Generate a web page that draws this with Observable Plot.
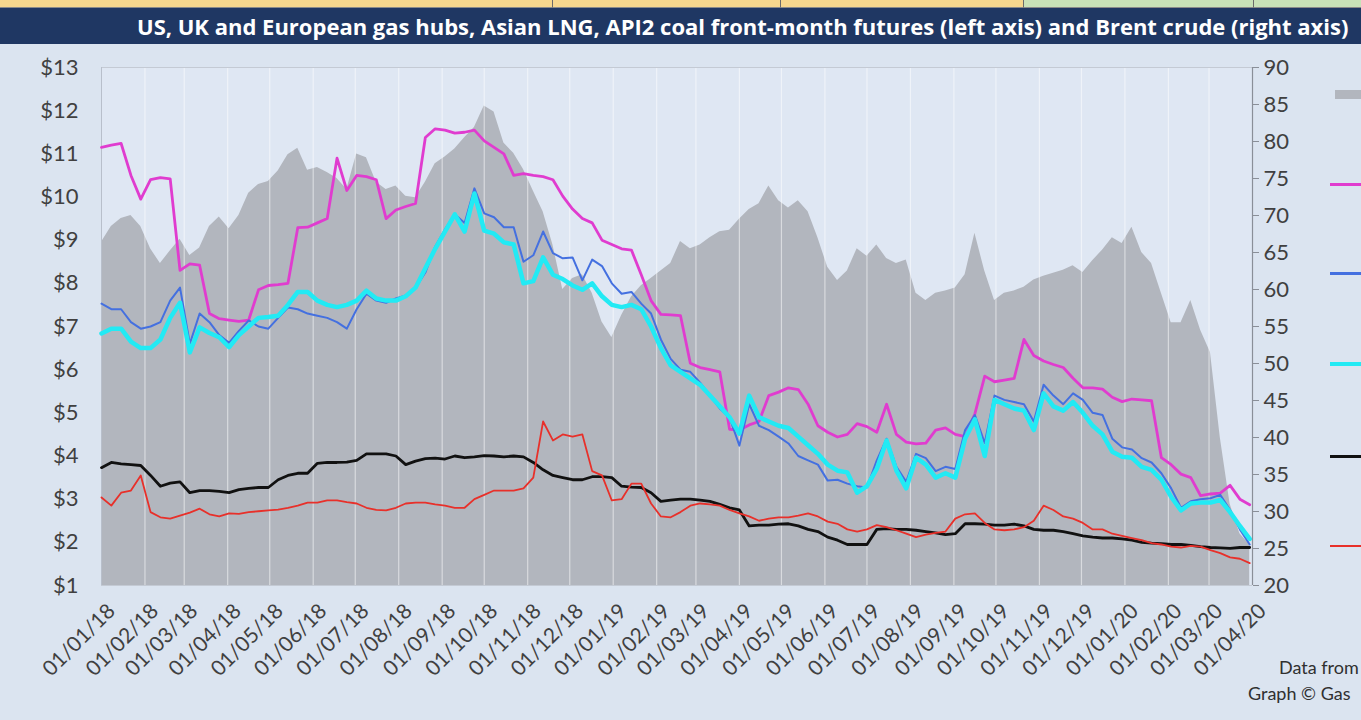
<!DOCTYPE html>
<html>
<head>
<meta charset="utf-8">
<script src="https://cdn.jsdelivr.net/npm/d3@7"></script>
<script src="https://cdn.jsdelivr.net/npm/@observablehq/plot@0.6"></script>
<style>
  html, body { margin: 0; padding: 0; }
  body { width: 1361px; height: 720px; overflow: hidden; position: relative; background: #dbe4f0; font-family: Lato, "Open Sans", sans-serif; }
  #strip { position: absolute; left: 0; top: 0; width: 1361px; height: 8px; }
  #strip div { position: absolute; top: 0; height: 8px; box-sizing: border-box; border-right: 1px solid #6b6b6b; border-bottom: 1px solid #8a8a8a; }
  #titlebar { position: absolute; left: 0; top: 8px; width: 1361px; height: 36px; background: #1f3763; overflow: hidden; }
  #title { position: absolute; left: 137px; top: 0; line-height: 36px; white-space: nowrap; color: #ffffff; font-family: "Open Sans", sans-serif; font-weight: 700; font-size: 22px; }
  #chart { position: absolute; left: 0; top: 44px; }
  .sw { position: absolute; left: 1330px; width: 40px; }
  .note { position: absolute; white-space: nowrap; font-size: 18px; color: #303030; }
</style>
</head>
<body>
<div id="strip">
  <div style="left:0;width:553px;background:#f6d78e"></div>
  <div style="left:553px;width:228px;background:#f6d78e"></div>
  <div style="left:781px;width:243px;background:#f6d78e"></div>
  <div style="left:1024px;width:230px;background:#c9e2b8"></div>
  <div style="left:1254px;width:120px;background:#c9e2b8"></div>
</div>
<div id="titlebar"><div id="title">US, UK and European gas hubs, Asian LNG, API2 coal front-month futures (left axis) and Brent crude (right axis)</div></div>
<div id="chart"></div>
<div class="sw" style="left:1335px;top:90px;height:9px;background:#b2b6be"></div>
<div class="sw" style="top:183px;height:3px;background:#e03ccf"></div>
<div class="sw" style="top:272px;height:3px;background:#4470e0"></div>
<div class="sw" style="top:362px;height:4px;background:#22eaf4"></div>
<div class="sw" style="top:455px;height:3px;background:#111111"></div>
<div class="sw" style="top:545px;height:2px;background:#e8302a"></div>
<div class="note" style="left:1279px;top:656px">Data from</div>
<div class="note" style="left:1248px;top:682px">Graph © Gas</div>
<script>
// Weekly observations (Mondays) starting 1 Jan 2018
const startDate = "2018-01-01";

// Brent crude, $/bbl (right axis)
const brent = [66.4, 68.5, 69.6, 70.0, 68.5, 65.5, 63.5, 65.2, 66.8, 64.6,
  65.6, 68.5, 69.8, 68.2, 70.0, 73.0, 74.2, 74.6, 76.0, 78.2,
  79.1, 76.1, 76.5, 75.8, 75.0, 73.5, 78.3, 77.8, 74.5, 73.5,
  74.0, 72.6, 72.4, 74.5, 77.0, 77.9, 79.0, 80.5, 81.9, 84.8,
  84.0, 79.8, 78.4, 76.2, 73.3, 70.5, 66.0, 60.0, 61.5, 62.0,
  59.5, 55.6, 53.5, 56.5, 59.0, 60.5, 61.5, 62.5, 63.5, 66.5,
  65.5, 66.0, 67.0, 67.8, 68.0, 69.5, 70.8, 71.6, 74.0, 72.0,
  71.0, 72.0, 70.5, 67.0, 63.0, 61.2, 62.5, 65.5, 64.5, 66.0,
  64.2, 63.5, 64.0, 59.5, 58.5, 59.5, 59.8, 60.2, 62.0, 67.6,
  62.5, 58.5, 59.5, 59.8, 60.3, 61.3, 61.8, 62.2, 62.6, 63.2,
  62.3, 63.9, 65.3, 67.0, 66.2, 68.4, 65.0, 63.5, 59.5, 55.5,
  55.5, 58.5, 54.5, 51.5, 40.0, 31.0, 27.0, 25.5];

// Asian LNG, $/MMBtu
const asianLNG = [11.15, 11.2, 11.24, 10.5, 9.95, 10.4, 10.45, 10.42, 8.3, 8.45,
  8.42, 7.3, 7.18, 7.15, 7.12, 7.15, 7.85, 7.95, 7.97, 8.0,
  9.29, 9.3, 9.4, 9.5, 10.9, 10.15, 10.5, 10.47, 10.4, 9.5,
  9.7, 9.78, 9.85, 11.38, 11.58, 11.55, 11.48, 11.5, 11.55, 11.3,
  11.15, 11.0, 10.5, 10.54, 10.5, 10.47, 10.4, 10.02, 9.72, 9.5,
  9.4, 9.0, 8.9, 8.8, 8.77, 8.2, 7.6, 7.28, 7.27, 7.25,
  6.15, 6.05, 6.0, 5.95, 4.62, 4.6, 4.72, 4.8, 5.4, 5.48,
  5.58, 5.54, 5.2, 4.7, 4.55, 4.44, 4.5, 4.75, 4.68, 4.55,
  5.2, 4.5, 4.32, 4.28, 4.3, 4.6, 4.65, 4.5, 4.45, 4.98,
  5.85, 5.72, 5.76, 5.8, 6.7, 6.33, 6.2, 6.12, 6.05, 5.8,
  5.58, 5.58, 5.55, 5.36, 5.26, 5.32, 5.3, 5.28, 3.96, 3.8,
  3.58, 3.5, 3.08, 3.12, 3.14, 3.32, 3.0, 2.87];

// UK gas hub, $/MMBtu
const ukGas = [7.53, 7.4, 7.4, 7.1, 6.95, 7.0, 7.1, 7.6, 7.9, 6.6,
  7.3, 7.1, 6.8, 6.62, 6.9, 7.14, 7.0, 6.95, 7.2, 7.44,
  7.4, 7.3, 7.25, 7.2, 7.1, 6.95, 7.4, 7.76, 7.6, 7.55,
  7.65, 7.72, 7.9, 8.25, 8.85, 9.25, 9.6, 9.4, 10.2, 9.62,
  9.53, 9.3, 9.3, 8.5, 8.65, 9.2, 8.7, 8.58, 8.6, 8.07,
  8.55, 8.4, 8.0, 7.76, 7.8, 7.53, 7.3, 6.7, 6.25, 6.0,
  5.95, 5.7, 5.4, 5.1, 4.89, 4.24, 5.2, 4.7, 4.6, 4.45,
  4.29, 4.0, 3.9, 3.8, 3.43, 3.45, 3.36, 3.3, 3.27, 3.9,
  4.4, 3.75, 3.4, 4.05, 3.95, 3.65, 3.75, 3.7, 4.6, 4.95,
  4.3, 5.4, 5.3, 5.25, 5.2, 4.8, 5.65, 5.4, 5.2, 5.45,
  5.3, 5.0, 4.95, 4.4, 4.2, 4.15, 3.95, 3.85, 3.6, 3.25,
  2.8, 2.95, 3.0, 3.02, 3.1, 2.75, 2.3, 1.95];

// European gas hub, $/MMBtu
const euGas = [6.84, 6.95, 6.95, 6.65, 6.5, 6.5, 6.7, 7.2, 7.55, 6.4,
  6.98, 6.85, 6.75, 6.52, 6.8, 7.0, 7.2, 7.22, 7.25, 7.5,
  7.8, 7.8, 7.6, 7.5, 7.45, 7.5, 7.6, 7.83, 7.65, 7.6,
  7.6, 7.7, 7.9, 8.35, 8.8, 9.2, 9.6, 9.2, 10.08, 9.22,
  9.15, 8.95, 8.9, 8.0, 8.05, 8.6, 8.2, 8.1, 7.95, 7.85,
  8.0, 7.7, 7.5, 7.45, 7.5, 7.4, 7.0, 6.5, 6.1, 5.95,
  5.8, 5.65, 5.4, 5.15, 4.9, 4.52, 5.4, 4.9, 4.8, 4.7,
  4.65, 4.45, 4.25, 4.05, 3.8, 3.66, 3.62, 3.15, 3.3, 3.7,
  4.36, 3.66, 3.25, 3.96, 3.8, 3.5, 3.6, 3.5, 4.4, 4.85,
  4.0, 5.3, 5.2, 5.1, 5.05, 4.6, 5.45, 5.15, 5.05, 5.25,
  5.0, 4.7, 4.5, 4.1, 3.98, 3.96, 3.75, 3.68, 3.45, 3.05,
  2.74, 2.9, 2.92, 2.92, 2.98, 2.7, 2.38, 2.08];

// API2 coal, $/MMBtu equivalent
const coal = [3.73, 3.85, 3.82, 3.8, 3.78, 3.55, 3.3, 3.37, 3.4, 3.15,
  3.2, 3.2, 3.18, 3.15, 3.22, 3.25, 3.27, 3.27, 3.45, 3.55,
  3.6, 3.6, 3.83, 3.85, 3.85, 3.86, 3.9, 4.05, 4.05, 4.05,
  4.0, 3.8, 3.88, 3.94, 3.95, 3.93, 4.0, 3.96, 3.98, 4.01,
  4.0, 3.98, 4.0, 3.98, 3.85, 3.68, 3.55, 3.5, 3.45, 3.45,
  3.52, 3.52, 3.5, 3.3, 3.28, 3.27, 3.15, 2.95, 2.98, 3.0,
  3.0, 2.98, 2.95, 2.88, 2.8, 2.75, 2.38, 2.4, 2.4, 2.42,
  2.43, 2.38, 2.3, 2.25, 2.12, 2.05, 1.95, 1.95, 1.95, 2.3,
  2.32, 2.3, 2.3, 2.28, 2.25, 2.22, 2.18, 2.2, 2.43, 2.43,
  2.42, 2.4, 2.4, 2.42, 2.38, 2.3, 2.28, 2.28, 2.25, 2.2,
  2.15, 2.12, 2.1, 2.1, 2.08, 2.05, 2.0, 1.98, 1.97, 1.95,
  1.95, 1.93, 1.9, 1.88, 1.87, 1.86, 1.88, 1.88];

// US gas hub, $/MMBtu
const usGas = [3.04, 2.85, 3.15, 3.2, 3.55, 2.7, 2.58, 2.55, 2.62, 2.69,
  2.78, 2.65, 2.6, 2.67, 2.66, 2.7, 2.72, 2.74, 2.76, 2.8,
  2.85, 2.92, 2.92, 2.97, 2.97, 2.93, 2.9, 2.8, 2.75, 2.74,
  2.8, 2.9, 2.92, 2.92, 2.88, 2.85, 2.8, 2.8, 3.0, 3.1,
  3.2, 3.2, 3.2, 3.25, 3.5, 4.8, 4.36, 4.5, 4.45, 4.5,
  3.65, 3.55, 2.97, 3.0, 3.36, 3.36, 2.9, 2.6, 2.58, 2.7,
  2.85, 2.9, 2.88, 2.85, 2.75, 2.67, 2.6, 2.5, 2.55, 2.58,
  2.58, 2.62, 2.67, 2.6, 2.48, 2.43, 2.3, 2.25, 2.3, 2.4,
  2.35, 2.28, 2.2, 2.12, 2.18, 2.22, 2.25, 2.55, 2.65, 2.67,
  2.45, 2.3, 2.28, 2.3, 2.35, 2.5, 2.85, 2.75, 2.6, 2.55,
  2.45, 2.3, 2.3, 2.2, 2.15, 2.1, 2.05, 1.98, 1.95, 1.9,
  1.88, 1.92, 1.9, 1.82, 1.75, 1.65, 1.62, 1.52];

// Axis ticks
const leftTicks = [1, 2, 3, 4, 5, 6, 7, 8, 9, 10, 11, 12, 13];
const rightTicks = [20, 25, 30, 35, 40, 45, 50, 55, 60, 65, 70, 75, 80, 85, 90];
const monthTicks = ["2018-01-01","2018-02-01","2018-03-01","2018-04-01","2018-05-01","2018-06-01",
  "2018-07-01","2018-08-01","2018-09-01","2018-10-01","2018-11-01","2018-12-01",
  "2019-01-01","2019-02-01","2019-03-01","2019-04-01","2019-05-01","2019-06-01",
  "2019-07-01","2019-08-01","2019-09-01","2019-10-01","2019-11-01","2019-12-01",
  "2020-01-01","2020-02-01","2020-03-01","2020-04-01"].map(s => new Date(s + "T00:00:00Z"));

const leftDomain = [1, 13];
const rightDomain = [20, 90];
// map Brent (right axis) onto the left-axis scale
const toLeft = v => leftDomain[0] + (v - rightDomain[0]) * (leftDomain[1] - leftDomain[0]) / (rightDomain[1] - rightDomain[0]);
const toRight = v => rightDomain[0] + (v - leftDomain[0]) * (rightDomain[1] - rightDomain[0]) / (leftDomain[1] - leftDomain[0]);

const t0 = new Date(startDate + "T00:00:00Z");
const rows = brent.map((b, i) => ({
  date: d3.utcDay.offset(t0, 7 * i),
  brent: toLeft(b),
  lng: asianLNG[i], uk: ukGas[i], eu: euGas[i], coal: coal[i], us: usGas[i]
}));

const fmt = d3.utcFormat("%d/%m/%y");
const axisFont = "Lato, 'Open Sans', sans-serif";

const chart = Plot.plot({
  width: 1361,
  height: 676,
  marginLeft: 101,
  marginRight: 109,
  marginTop: 23,
  marginBottom: 135,
  x: { type: "utc", domain: [monthTicks[0], monthTicks[monthTicks.length - 1]] },
  y: { domain: leftDomain },
  style: { background: "transparent", fontFamily: axisFont, color: "#404040", overflow: "visible" },
  marks: [
    Plot.frame({ fill: "#dfe7f3", stroke: "none" }),
    Plot.areaY(rows, { x: "date", y1: leftDomain[0], y2: "brent", fill: "#b2b6be" }),
    Plot.ruleX(monthTicks.slice(1, -1), { stroke: "#ffffff", strokeOpacity: 0.5, strokeWidth: 1.2 }),
    Plot.ruleY([leftDomain[1]], { stroke: "#c4cad4", strokeWidth: 1.2 }),
    Plot.ruleY([leftDomain[0]], { stroke: "#c4cad4", strokeWidth: 1.2 }),
    Plot.ruleX([monthTicks[0]], { stroke: "#b8bfcb", strokeWidth: 1 }),
    Plot.line(rows, { x: "date", y: "lng", stroke: "#e03ccf", strokeWidth: 2.8 }),
    Plot.line(rows, { x: "date", y: "uk", stroke: "#4470e0", strokeWidth: 2 }),
    Plot.line(rows, { x: "date", y: "eu", stroke: "#22eaf4", strokeWidth: 4.5 }),
    Plot.line(rows, { x: "date", y: "coal", stroke: "#111111", strokeWidth: 2.8 }),
    Plot.line(rows, { x: "date", y: "us", stroke: "#e8302a", strokeWidth: 1.8 }),
    Plot.axisY(leftTicks, { anchor: "left", tickSize: 0, tickPadding: 23, tickFormat: d => "$" + d, fontSize: 22, fill: "#404040" }),
    Plot.axisY(rightTicks.map(toLeft), { anchor: "right", tickSize: 6, tickPadding: 5, tickFormat: d => String(Math.round(toRight(d))), fontSize: 22, fill: "#404040", stroke: "#8a8f98" }),
    Plot.ruleX([monthTicks[monthTicks.length - 1]], { stroke: "#8a8f98", strokeWidth: 1.2 }),
    Plot.axisX(monthTicks, { anchor: "bottom", tickSize: 0, tickPadding: 22, dx: 10, tickRotate: -45, tickFormat: fmt, fontSize: 21, fill: "#404040" })
  ]
});
document.getElementById("chart").appendChild(chart);
</script>
</body>
</html>
